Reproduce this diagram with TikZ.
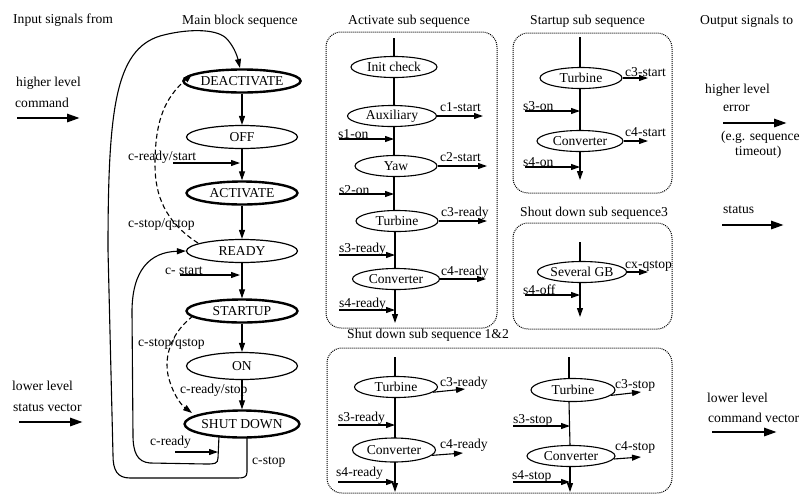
\documentclass[tikz,border=0pt]{standalone}
\usepackage{fontspec}
\setmainfont{Liberation Serif}
\usetikzlibrary{arrows.meta,shapes.geometric}
\begin{document}
\begin{tikzpicture}[x=1pt,y=-1pt,
 every node/.style={font=\fontsize{13.6}{16}\selectfont, inner sep=0pt},
 st/.style={ellipse,draw,line width=1.2pt,minimum width=111pt,minimum height=23pt},
 stb/.style={st,line width=2.4pt},
 sub/.style={ellipse,draw,line width=1.1pt,minimum height=21pt},
 ln/.style={line width=1.1pt},
 arr/.style={ln,-{Triangle[length=9pt,width=6pt]}},
 dsh/.style={arr,dash pattern=on 5pt off 3pt},
 big/.style={line width=2.8pt,-{Triangle[length=13pt,width=8pt]}},
 box/.style={draw,line width=1pt,densely dotted,rounded corners=15pt},
 lbl/.style={anchor=west}]
\useasboundingbox (0,0) rectangle (801,496);

% ---------- left column texts ----------
\node[lbl] (tin) at (13,20) {Input signals from};
\node[lbl] (thl) at (16,83) {higher level};
\node[lbl] (tcmd) at (15,103) {command};
\coordinate (hlA) at (17,118); \coordinate (hlB) at (80,118);
\draw[big] (hlA) -- (hlB);
\node[lbl] (tll) at (12,386) {lower level};
\node[lbl] (tsv) at (13,408) {status vector};
\coordinate (llA) at (19,422); \coordinate (llB) at (83,422);
\draw[big] (llA) -- (llB);

% ---------- main block sequence ----------
\node[lbl] (tmain) at (182,21) {Main block sequence};
\node[stb] (deact) at (242,81) {DEACTIVATE};
\node[st]  (off)   at (242,137) {OFF};
\node[stb] (act)   at (242,193) {ACTIVATE};
\node[st]  (ready) at (242,251) {READY};
\node[stb] (su)    at (242,311) {STARTUP};
\node[st,minimum height=27pt]  (on)    at (242,366) {ON};
\node[stb,minimum height=27pt] (sd)    at (242,424) {SHUT DOWN};

\draw[arr] (deact) -- (off);
\draw[arr] (off) -- (act);
\draw[arr] (act) -- (ready);
\draw[arr] (ready) -- (su);
\draw[arr] (su) -- (on);
\draw[arr] (on) -- (sd);

\node[lbl] (lcrs) at (128,157) {c-ready/start};
\coordinate (crsA) at (173,163); \coordinate (crsB) at (240,163);
\draw[arr] (crsA) -- (crsB);
\node[lbl] (lcs) at (165,271) {c- start};
\coordinate (csA) at (180,275); \coordinate (csB) at (240,275);
\draw[arr] (csA) -- (csB);
\node[lbl] (lcsq1) at (128,224) {c-stop/qstop};
\node[lbl] (lcsq2) at (138,343) {c-stop/qstop};
\node[lbl] (lcrst) at (180,390) {c-ready/stop};
\node[lbl] (lcr) at (150,442) {c-ready};
\node[lbl] (lcst) at (252,462) {c-stop};

% dashed transitions
\coordinate (d1s) at (198,243);
\draw[dsh] (d1s) .. controls (165,222) and (155,195) .. (155,165)
  .. controls (155,120) and (165,98) .. (deact.172);
\coordinate (d2s) at (193,316);
\coordinate (d2e) at (192,413);
\draw[dsh] (d2s) .. controls (172,332) and (164,355) .. (168,375)
  .. controls (172,392) and (180,404) .. (d2e);

% inner loop SHUT DOWN -> READY
\coordinate (sdl) at (219,436);
\coordinate (ldr) at (218,452);
\draw[ln,-{Triangle[length=9pt,width=6pt]}] (sdl) -- (218,458) .. controls (218,464) and (214,464) .. (206,464)
  -- (150,463) .. controls (137,462) and (133,452) .. (133,435)
  -- (132,312) .. controls (132,270) and (150,252) .. (ready.west);
\coordinate (crA) at (175,452);
\draw[arr] (crA) -- (ldr);

% outer loop SHUT DOWN -> DEACTIVATE
\coordinate (sdr) at (247,437);
\coordinate (dtop) at (240,68);
\draw[ln,-{Triangle[length=9pt,width=6pt]}] (sdr) -- (247,472) .. controls (247,477) and (244,478) .. (238,478)
  -- (130,478) .. controls (117,478) and (113,470) .. (113,455)
  -- (108,250) .. controls (108,110) and (115,50) .. (160,36)
  .. controls (185,29) and (215,28) .. (226,38)
  .. controls (233,45) and (237,55) .. (dtop);

% ---------- Activate sub sequence ----------
\node[lbl] (tact) at (348,21) {Activate sub sequence};
\draw[box] (326,32) rectangle (497,328);
\coordinate (a0) at (394,38);
\node[sub,minimum width=86pt] (ainit) at (394,67) {Init check};
\node[sub,minimum width=89pt] (aaux) at (392,116) {Auxiliary};
\node[sub,minimum width=82pt] (ayaw) at (396,166) {Yaw};
\node[sub,minimum width=82pt] (aturb) at (397,221) {Turbine};
\node[sub,minimum width=87pt] (aconv) at (396,279) {Converter};
\coordinate (aend) at (395,323);
\draw[ln] (a0) -- (394,56);
\draw[ln] (394,77.5) -- (394,105.5);
\draw[ln] (394,126.5) -- (394,155.5);
\draw[ln] (394,176.5) -- (394,210.5);
\draw[ln] (395,231.5) -- (395,268.5);
\draw[arr] (395,289.5) -- (aend);

\node[lbl] (la1) at (440,107) {c1-start};
\coordinate (ac1) at (483,116); \draw[arr] (aaux.east) -- (ac1);
\node[lbl] (la2) at (440,157) {c2-start};
\coordinate (ac2) at (487,166); \draw[arr] (ayaw.east) -- (ac2);
\node[lbl] (la3) at (441,213) {c3-ready};
\coordinate (ac3) at (487,221); \draw[arr] (aturb.east) -- (ac3);
\node[lbl] (la4) at (441,272) {c4-ready};
\coordinate (ac4) at (486,279); \draw[arr] (aconv.east) -- (ac4);

\node[lbl] (ls1) at (338,134) {s1-on};
\coordinate (as1a) at (339,139); \coordinate (as1b) at (394,139); \draw[arr] (as1a) -- (as1b);
\node[lbl] (ls2) at (339,190) {s2-on};
\coordinate (as2a) at (339,194); \coordinate (as2b) at (394,194); \draw[arr] (as2a) -- (as2b);
\node[lbl] (ls3) at (339,249) {s3-ready};
\coordinate (as3a) at (339,255); \coordinate (as3b) at (395,255); \draw[arr] (as3a) -- (as3b);
\node[lbl] (ls4) at (339,304) {s4-ready};
\coordinate (as4a) at (339,310); \coordinate (as4b) at (395,310); \draw[arr] (as4a) -- (as4b);

% ---------- Startup sub sequence ----------
\node[lbl] (tsu) at (530,21) {Startup sub sequence};
\draw[box] (513,33) rectangle (672,193);
\coordinate (s0) at (580,37);
\node[sub,minimum width=82pt] (sturb) at (581,78) {Turbine};
\node[sub,minimum width=86pt] (sconv) at (580,141) {Converter};
\coordinate (send) at (580,180);
\draw[ln] (s0) -- (580,67.5);
\draw[ln] (580,88.5) -- (580,130.5);
\draw[arr] (580,151.5) -- (send);
\node[lbl] (lsc3) at (625,72) {c3-start};
\coordinate (sc3) at (648,78); \draw[arr] (sturb.east) -- (sc3);
\node[lbl] (lsc4) at (625,132) {c4-start};
\coordinate (sc4) at (648,141); \draw[arr] (sconv.east) -- (sc4);
\node[lbl] (lss3) at (523,106) {s3-on};
\coordinate (ss3a) at (525,111); \coordinate (ss3b) at (580,111); \draw[arr] (ss3a) -- (ss3b);
\node[lbl] (lss4) at (523,162) {s4-on};
\coordinate (ss4a) at (525,167); \coordinate (ss4b) at (580,167); \draw[arr] (ss4a) -- (ss4b);

% ---------- Shout down sub sequence3 ----------
\node[lbl] (tsd3) at (520,213) {Shout down sub sequence3};
\draw[box] (513,223) rectangle (672,329);
\coordinate (g0) at (580,242);
\node[sub,minimum width=78pt] (sgb) at (582,272) {Several GB};
\coordinate (gend) at (580,317);
\draw[ln] (g0) -- (580,261.5);
\draw[arr] (580,282.5) -- (gend);
\node[lbl] (lgx) at (625,266) {cx-qstop};
\coordinate (gx) at (648,272); \draw[arr] (sgb.east) -- (gx);
\node[lbl] (lgs) at (523,290) {s4-off};
\coordinate (gsa) at (525,295); \coordinate (gsb) at (580,295); \draw[arr] (gsa) -- (gsb);

% ---------- Shut down sub sequence 1&2 ----------
\node[lbl] (tsd12) at (347,335) {Shut down sub sequence 1\&2};
\draw[box] (327,348) rectangle (672,493);
% left column
\coordinate (l0) at (395,357);
\node[sub,minimum width=83pt] (dt1) at (396,387) {Turbine};
\node[sub,minimum width=83pt,minimum height=24pt] (dc1) at (394,450) {Converter};
\coordinate (lend) at (395,492);
\draw[ln] (l0) -- (395,376.5);
\draw[ln] (395,397.5) -- (395,438);
\draw[arr] (395,462) -- (lend);
\node[lbl] (ld3) at (440,383) {c3-ready};
\coordinate (ld3e) at (465,389); \draw[arr] (dt1.-8) -- (ld3e);
\node[lbl] (ld4) at (440,445) {c4-ready};
\coordinate (ld4e) at (463,453); \draw[arr] (dc1.-8) -- (ld4e);
\node[lbl] (lds3) at (338,418) {s3-ready};
\coordinate (lds3a) at (338,425); \coordinate (lds3b) at (395,425); \draw[arr] (lds3a) -- (lds3b);
\node[lbl] (lds4) at (336,473) {s4-ready};
\coordinate (lds4a) at (338,482); \coordinate (lds4b) at (395,482); \draw[arr] (lds4a) -- (lds4b);
% right column
\coordinate (r0) at (569,357);
\node[sub,minimum width=84pt,minimum height=23pt] (dt2) at (573,390) {Turbine};
\node[sub,minimum width=88pt] (dc2) at (571,456) {Converter};
\coordinate (rend) at (570,492);
\draw[ln] (r0) -- (569,378.5);
\draw[ln] (569,401.5) -- (570,445.5);
\draw[arr] (570,466.5) -- (rend);
\node[lbl] (rd3) at (615,385) {c3-stop};
\coordinate (rd3e) at (641,392); \draw[arr] (dt2.-8) -- (rd3e);
\node[lbl] (rd4) at (615,447) {c4-stop};
\coordinate (rd4e) at (641,457); \draw[arr] (dc2.-4) -- (rd4e);
\node[lbl] (rds3) at (513,420) {s3-stop};
\coordinate (rds3a) at (513,426); \coordinate (rds3b) at (570,426); \draw[arr] (rds3a) -- (rds3b);
\node[lbl] (rds4) at (512,476) {s4-stop};
\coordinate (rds4a) at (513,482); \coordinate (rds4b) at (570,482); \draw[arr] (rds4a) -- (rds4b);

% ---------- output texts ----------
\node[lbl] (tout) at (700,21) {Output signals to};
\node[lbl] (ohl) at (705,90) {higher level};
\node[lbl] (oerr) at (723,108) {error};
\coordinate (oeA) at (723,123); \coordinate (oeB) at (787,123);
\draw[big] (oeA) -- (oeB);
\node[lbl] (oeg) at (721,137) {(e.g. sequence};
\node[lbl] (oto) at (735,152) {timeout)};
\node[lbl] (ost) at (723,210) {status};
\coordinate (osA) at (722,225); \coordinate (osB) at (784,225);
\draw[big] (osA) -- (osB);
\node[lbl] (oll) at (707,398) {lower level};
\node[lbl] (ocv) at (708,418) {command vector};
\coordinate (ocA) at (712,432); \coordinate (ocB) at (777,432);
\draw[big] (ocA) -- (ocB);
\end{tikzpicture}
\end{document}
